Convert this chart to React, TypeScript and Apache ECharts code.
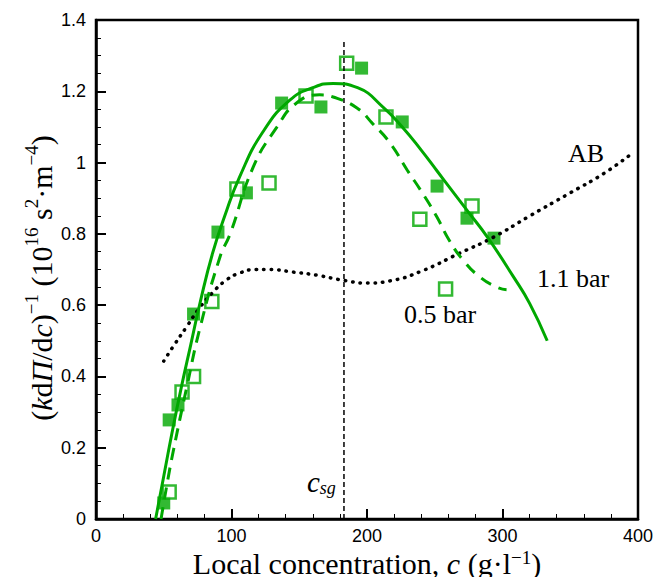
import React, { useEffect, useRef } from "react";
import * as echarts from "echarts";

const GREEN = "#00a800";

// 1.1 bar measured points (filled squares)
const filled11: number[][] = [
  [50, 0.045], [54, 0.278], [60.5, 0.32], [72, 0.575], [90, 0.805], [111, 0.915],
  [137, 1.167], [166, 1.156], [196, 1.265], [226, 1.114], [251.7, 0.934], [273.8, 0.844], [293.7, 0.788],
];
// 0.5 bar measured points (open squares)
const open05: number[][] = [
  [54, 0.076], [63.5, 0.356], [72, 0.40], [85.5, 0.61], [104, 0.926], [127.7, 0.943],
  [155, 1.187], [185, 1.279], [214, 1.128], [239, 0.841], [258, 0.645], [277.5, 0.878],
];
// 1.1 bar fit (solid)
const curve11: number[][] = [
  [44, 0], [50, 0.12], [56, 0.24], [63, 0.37], [70, 0.49], [77, 0.61], [86, 0.745], [95, 0.85],
  [106, 0.96], [123, 1.085], [143, 1.175], [160, 1.21], [175, 1.222], [193, 1.21], [212, 1.155],
  [226, 1.1], [240, 1.035], [252, 0.975], [263, 0.92], [274, 0.865], [289, 0.79], [308, 0.68],
  [320, 0.605], [333, 0.5],
];
// 0.5 bar fit (dashed)
const curve05: number[][] = [
  [48, 0], [53, 0.11], [57, 0.19], [67, 0.37], [77, 0.54], [91.5, 0.735], [99, 0.8], [116, 0.987],
  [133.6, 1.1], [148, 1.167], [165, 1.19], [175, 1.184], [192.6, 1.153], [204, 1.11], [217, 1.055],
  [229.5, 0.98], [241, 0.914], [251.5, 0.848], [261, 0.78], [271, 0.726], [283, 0.68], [296, 0.65],
  [303, 0.643],
];
// AB curve (dotted)
const curveAB: number[][] = [
  [50, 0.443], [58, 0.49], [67, 0.54], [76, 0.59], [86, 0.635], [96, 0.67], [106, 0.69], [118, 0.7],
  [128, 0.7], [145, 0.693], [163, 0.684], [182, 0.67], [200, 0.662], [217, 0.668], [240, 0.695],
  [268, 0.745], [293, 0.79], [320, 0.85], [350, 0.915], [375, 0.97], [396, 1.027],
];
const CSG = 183;
const csgLine: number[][] = [[CSG, 0], [CSG, 1.34]];

const xTicks = { min: 0, max: 400, interval: 100 };
const yTicks = { min: 0, max: 1.4, interval: 0.2 };

const SERIF = "'Liberation Serif', 'Times New Roman', serif";
const SANS = "'Liberation Sans', Arial, sans-serif";

function richSet(size: number, supSize: number, lh: number) {
  return {
    n: { fontFamily: SERIF, fontSize: size, lineHeight: lh, color: "#000" },
    i: { fontFamily: SERIF, fontSize: size, lineHeight: lh, fontStyle: "italic", color: "#000" },
    sup: { fontFamily: SERIF, fontSize: supSize, verticalAlign: "top", color: "#000" },
  };
}

export default function App() {
  const ref = useRef<HTMLDivElement>(null);
  useEffect(() => {
    if (!ref.current) return;
    const chart = echarts.init(ref.current, null, { renderer: "svg" });
    const axisCommon = {
      axisLine: { show: true, lineStyle: { color: "#000", width: 2.5 } },
      axisTick: { show: true, inside: true, length: 10, lineStyle: { color: "#000", width: 2 } },
      minorTick: { show: true, length: 5, lineStyle: { color: "#000", width: 1 } },
      splitLine: { show: false },
    };
    chart.setOption({
      animation: false,
      backgroundColor: "#fff",
      grid: { left: 96, top: 20, width: 542, height: 499, show: true, borderColor: "#000", borderWidth: 2.5 },
      xAxis: {
        type: "value", ...xTicks, ...axisCommon,
        minorTick: { ...axisCommon.minorTick, splitNumber: 5 },
        axisLabel: { color: "#000", fontFamily: SANS, fontSize: 18, margin: 8 },
      },
      yAxis: {
        type: "value", ...yTicks, ...axisCommon,
        minorTick: { ...axisCommon.minorTick, splitNumber: 4 },
        axisLabel: { color: "#000", fontFamily: SANS, fontSize: 18, margin: 10 },
      },
      series: [
        {
          type: "line", data: curveAB, smooth: true, showSymbol: false, symbol: "none",
          lineStyle: { color: "#000", width: 3.5, type: [0.5, 7], cap: "round" },
        },
        {
          type: "line", data: csgLine, showSymbol: false, symbol: "none",
          lineStyle: { color: "#000", width: 1.5, type: [5, 3] },
        },
        {
          type: "line", data: curve05, smooth: true, showSymbol: false, symbol: "none",
          lineStyle: { color: GREEN, width: 3, type: [12, 8] },
        },
        {
          type: "line", data: curve11, smooth: true, showSymbol: false, symbol: "none",
          lineStyle: { color: GREEN, width: 3 },
        },
        {
          type: "scatter", data: filled11, symbol: "rect", symbolSize: 13,
          itemStyle: { color: GREEN },
        },
        {
          type: "scatter", data: open05, symbol: "rect", symbolSize: 13,
          itemStyle: { color: "#fff", borderColor: GREEN, borderWidth: 2.5 },
        },
      ],
      graphic: [
        {
          type: "text", x: 367, y: 563,
          style: {
            text: "{n|Local concentration, }{i|c}{n| (g·l}{sup|−1}{n|)}",
            fontFamily: SERIF, fontSize: 30, fill: "#000", align: "center", verticalAlign: "middle",
            rich: richSet(30, 19, 30),
          },
        },
        {
          type: "text", x: 41, y: 278, rotation: Math.PI / 2,
          style: {
            text: "{n|(}{i|k}{n|d}{i|Π}{n|/d}{i|c}{n|)}{sup|−1}{n| (10}{sup|16}{n| s}{sup|2}{n|·m}{sup|−4}{n|)}",
            fontFamily: SERIF, fontSize: 30, fill: "#000", align: "center", verticalAlign: "middle",
            rich: richSet(30, 19, 38),
          },
        },
        {
          type: "text", x: 586, y: 153,
          style: { text: "AB", fontFamily: SERIF, fontSize: 26, fill: "#000", align: "center", verticalAlign: "middle" },
        },
        {
          type: "text", x: 573, y: 278,
          style: { text: "1.1 bar", fontFamily: SERIF, fontSize: 26, fill: "#000", align: "center", verticalAlign: "middle" },
        },
        {
          type: "text", x: 440, y: 314,
          style: { text: "0.5 bar", fontFamily: SERIF, fontSize: 26, fill: "#000", align: "center", verticalAlign: "middle" },
        },
        {
          type: "text", x: 307, y: 482,
          style: {
            text: "{c|c}{s|sg}", fontFamily: SERIF, fontSize: 29, fill: "#000", align: "left", verticalAlign: "middle",
            rich: {
              c: { fontFamily: SERIF, fontStyle: "italic", fontSize: 29, color: "#000" },
              s: { fontFamily: SERIF, fontStyle: "italic", fontSize: 18, verticalAlign: "bottom", color: "#000" },
            },
          },
        },
      ],
    });
    return () => chart.dispose();
  }, []);
  return <div ref={ref} style={{ width: 670, height: 585, margin: -8 }} />;
}
